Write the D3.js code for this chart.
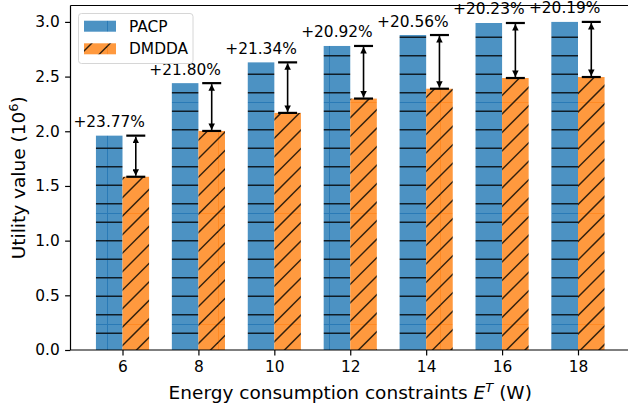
<!DOCTYPE html>
<html>
<head>
<meta charset="utf-8">
<script src="https://cdn.jsdelivr.net/npm/d3@7"></script>
<style>
  body { margin: 0; background: #fff; }
  svg { display: block; font-family: "DejaVu Sans", sans-serif; }
</style>
</head>
<body>
<div id="chart"></div>
<script>
// energy constraint E^T (W)
var energy = [6, 8, 10, 12, 14, 16, 18];
var pacp = [1.96, 2.44, 2.63, 2.78, 2.88, 2.99, 3.00];
var dmdda = [1.584, 2.003, 2.168, 2.299, 2.389, 2.487, 2.496];
var gains = ["+23.77%", "+21.80%", "+21.34%", "+20.92%", "+20.56%", "+20.23%", "+20.19%"];
var yTicks = [0, 0.5, 1.0, 1.5, 2.0, 2.5, 3.0];

var W = 628, H = 407;
var barW = 0.7;
var tile = 111; // hatch tile size

var svg = d3.select("#chart").append("svg").attr("width", W).attr("height", H);

var x = d3.scaleLinear().domain([4.63, 19.37]).range([70.5, 630]);
var y = d3.scaleLinear().domain([0, 3.15]).range([350, 5.5]);

var defs = svg.append("defs");

// PACP: horizontal hatch
var pb = defs.append("pattern").attr("id", "hBlue")
  .attr("patternUnits", "userSpaceOnUse")
  .attr("x", 107).attr("y", 102).attr("width", tile).attr("height", tile);
pb.append("rect").attr("width", tile).attr("height", tile).attr("fill", "#4c92c3");
pb.append("line").attr("x1", 0.5).attr("x2", 0.5).attr("y1", 0).attr("y2", tile)
  .attr("stroke", "#2a7ab6").attr("stroke-width", 1);
pb.append("line").attr("x1", 0).attr("x2", tile).attr("y1", 0.5).attr("y2", 0.5)
  .attr("stroke", "#2a7ab6").attr("stroke-width", 1);
d3.range(6).forEach(function (k) {
  var yy = 9.25 + k * tile / 6;
  pb.append("line").attr("x1", 0).attr("x2", tile).attr("y1", yy).attr("y2", yy)
    .attr("stroke", "#0f1d27").attr("stroke-width", 1.5);
});

// DMDDA: diagonal hatch
var po = defs.append("pattern").attr("id", "hOrange")
  .attr("patternUnits", "userSpaceOnUse")
  .attr("x", 107).attr("y", 102).attr("width", tile).attr("height", tile);
po.append("rect").attr("width", tile).attr("height", tile).attr("fill", "#ff993e");
po.append("line").attr("x1", 0.5).attr("x2", 0.5).attr("y1", 0).attr("y2", tile)
  .attr("stroke", "#ff8a24").attr("stroke-width", 1);
po.append("line").attr("x1", 0).attr("x2", tile).attr("y1", 0.5).attr("y2", 0.5)
  .attr("stroke", "#ff8a24").attr("stroke-width", 1);
d3.range(13).forEach(function (k) {
  var c = k * tile / 6;
  var xa = Math.max(0, c - tile) - 3, xb = Math.min(c, tile) + 3;
  po.append("line").attr("x1", xa).attr("y1", c - xa).attr("x2", xb).attr("y2", c - xb)
    .attr("stroke", "#33200c").attr("stroke-width", 1.5);
});

// arrow heads
function head(id, orient) {
  defs.append("marker").attr("id", id)
    .attr("viewBox", "0 0 10 10").attr("refX", 10).attr("refY", 5)
    .attr("markerUnits", "userSpaceOnUse")
    .attr("markerWidth", 7).attr("markerHeight", 6.5)
    .attr("orient", orient)
    .append("path").attr("d", "M0,0 L10,5 L0,10 Z").attr("fill", "#000");
}
head("arrEnd", "auto");
head("arrStart", "auto-start-reverse");

var step = x(1) - x(0);
var bw = barW * step;

// bars
var gBars = svg.append("g");
gBars.selectAll(".pacp").data(energy).enter().append("rect")
  .attr("x", function (d) { return x(d - barW) })
  .attr("y", function (d, i) { return y(pacp[i]) })
  .attr("width", bw)
  .attr("height", function (d, i) { return y(0) - y(pacp[i]) })
  .attr("fill", "url(#hBlue)");
gBars.selectAll(".dmdda").data(energy).enter().append("rect")
  .attr("x", function (d) { return x(d) })
  .attr("y", function (d, i) { return y(dmdda[i]) })
  .attr("width", bw)
  .attr("height", function (d, i) { return y(0) - y(dmdda[i]) })
  .attr("fill", "url(#hOrange)");

// axes
var xAxis = svg.append("g").attr("transform", "translate(0," + y(0) + ")")
  .call(d3.axisBottom(x).tickValues(energy).tickSize(5.4).tickPadding(5.4).tickFormat(d3.format("d")));
var yAxis = svg.append("g").attr("transform", "translate(" + x.range()[0] + ",0)")
  .call(d3.axisLeft(y).tickValues(yTicks).tickSize(5.4).tickPadding(5.4).tickFormat(d3.format(".1f")));
[xAxis, yAxis].forEach(function (g) {
  g.selectAll("text").attr("font-size", 15.4).attr("fill", "#000").attr("font-family", "DejaVu Sans");
  g.selectAll("line").attr("stroke", "#000").attr("stroke-width", 1.2);
  g.select(".domain").remove();
});
// spines
svg.append("line").attr("x1", x.range()[0]).attr("x2", x.range()[0]).attr("y1", y.range()[0]).attr("y2", y.range()[1])
  .attr("stroke", "#000").attr("stroke-width", 1.2);
svg.append("line").attr("x1", x.range()[0]).attr("x2", W).attr("y1", y.range()[0]).attr("y2", y.range()[0])
  .attr("stroke", "#000").attr("stroke-width", 1.2);
svg.append("line").attr("x1", x.range()[0]).attr("x2", W).attr("y1", y.range()[1]).attr("y2", y.range()[1])
  .attr("stroke", "#000").attr("stroke-width", 1.2);

// gap arrows with caps
var gAnn = svg.append("g");
energy.forEach(function (e, i) {
  var cx = x(e + barW / 2);
  var y1 = y(dmdda[i]), y2 = y(pacp[i]);
  gAnn.append("line").attr("x1", cx).attr("x2", cx).attr("y1", y1 - 1).attr("y2", y2 + 1)
    .attr("stroke", "#000").attr("stroke-width", 1.6)
    .attr("marker-start", "url(#arrStart)").attr("marker-end", "url(#arrEnd)");
  [y1, y2].forEach(function (yy) {
    gAnn.append("line").attr("x1", cx - 9.5).attr("x2", cx + 9.5).attr("y1", yy).attr("y2", yy)
      .attr("stroke", "#000").attr("stroke-width", 2.2);
  });
  gAnn.append("text").attr("x", x(e - barW / 2)).attr("y", y2 - 8.5)
    .attr("text-anchor", "middle").attr("font-size", 15.4).text(gains[i]);
});

// legend
var lg = svg.append("g");
lg.append("rect").attr("x", 78.5).attr("y", 13.5).attr("width", 114.5).attr("height", 50).attr("rx", 3)
  .attr("fill", "#fff").attr("fill-opacity", 0.8).attr("stroke", "#d6d6d6").attr("stroke-width", 1);
var legItems = [["PACP", "url(#hBlue)"], ["DMDDA", "url(#hOrange)"]];
legItems.forEach(function (it, i) {
  var top = 20.7 + i * 22.6;
  lg.append("rect").attr("x", 84).attr("y", top).attr("width", 32).attr("height", 11).attr("fill", it[1]);
  lg.append("text").attr("x", 129).attr("y", top + 11).attr("font-size", 15.4).text(it[0]);
});

// axis labels
var xl = svg.append("text").attr("x", (x.range()[0] + 630) / 2).attr("y", 399.3)
  .attr("text-anchor", "middle").attr("font-size", 18.5);
xl.append("tspan").text("Energy consumption constraints ");
xl.append("tspan").attr("font-style", "italic").text("E");
xl.append("tspan").attr("font-style", "italic").attr("font-size", 13).attr("dy", -7.5).text("T");
xl.append("tspan").attr("dy", 7.5).text(" (W)");

var yl = svg.append("text").attr("transform", "translate(25," + (y.range()[0] + y.range()[1]) / 2 + ") rotate(-90)")
  .attr("text-anchor", "middle").attr("font-size", 18.5);
yl.append("tspan").text("Utility value (10");
yl.append("tspan").attr("font-size", 13).attr("dy", -7.5).text("6");
yl.append("tspan").attr("dy", 7.5).text(")");
</script>
</body>
</html>
